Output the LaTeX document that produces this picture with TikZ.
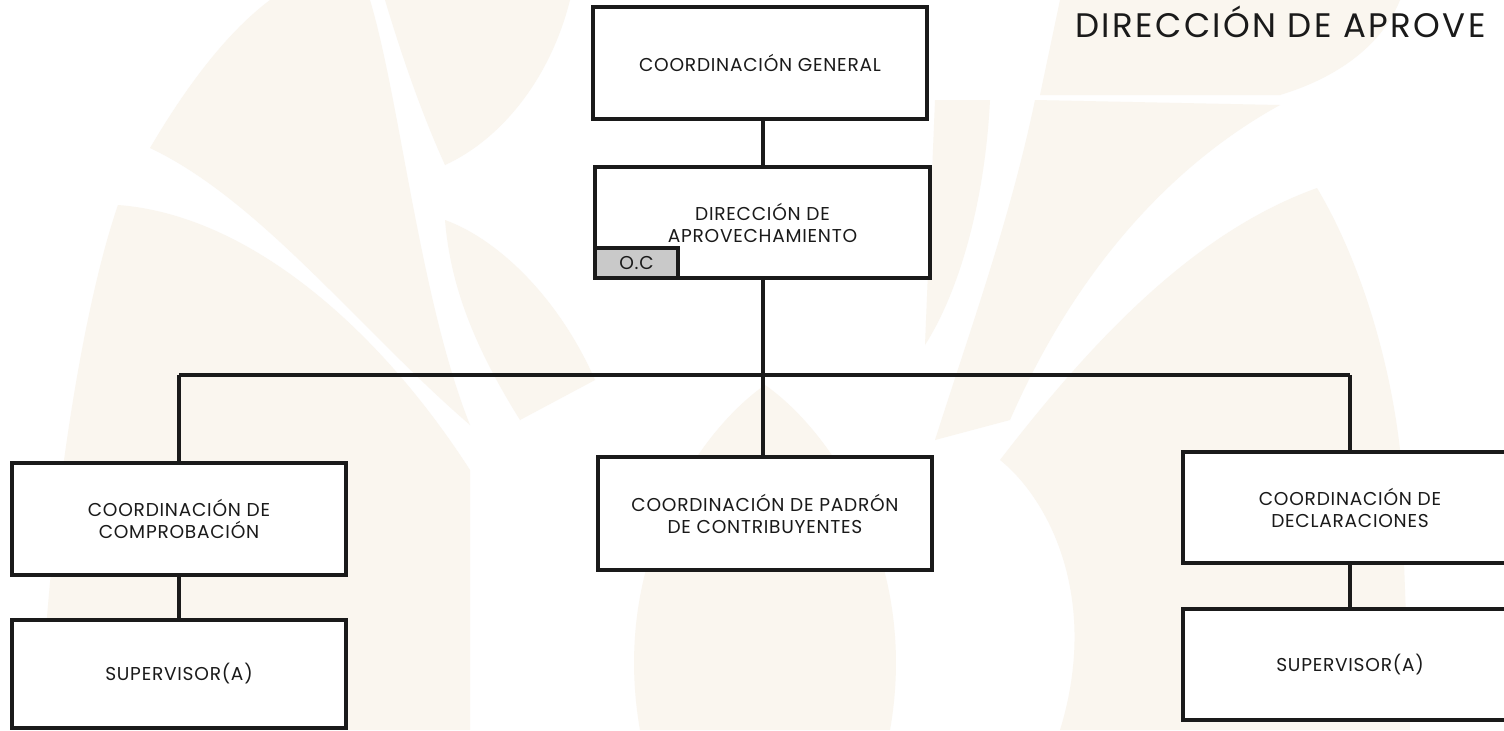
\documentclass[tikz,border=0pt]{standalone}
\usepackage{fontspec}
\setmainfont{Poppins}
\definecolor{wmark}{HTML}{FAF6EF}
\definecolor{ocgray}{HTML}{C9C9C9}
\definecolor{ink}{HTML}{1A1A1A}
\newfontfamily\boxfont[LetterSpace=4]{Poppins}
\newfontfamily\titlefont[LetterSpace=7]{Poppins}
\tikzset{
  orgbox/.style={draw=ink, line width=1.6pt, fill=white, minimum width=167pt, minimum height=56pt, align=center, font=\boxfont\fontsize{9.3}{11}\selectfont, text=ink, inner sep=0pt},
  link/.style={draw=ink, line width=1.6pt},
}
\begin{document}
\begin{tikzpicture}[x=0.5pt,y=-0.5pt]
\useasboundingbox (0,0) rectangle (1504,730);
\clip (0,0) rectangle (1504,730);
\fill[white] (0,0) rectangle (1504,730);
% faint watermark shapes
\fill[wmark] (40,730) .. controls (50,500) and (85,300) .. (118,205) .. controls (250,215) and (380,330) .. (470,470) -- (470,730) -- cycle;
\fill[wmark] (150,148) .. controls (190,80) and (230,30) .. (270,0) -- (370,0) .. controls (400,100) and (420,300) .. (470,425) .. controls (360,330) and (260,200) .. (150,148) -- cycle;
\fill[wmark] (385,0) -- (570,0) .. controls (550,80) and (500,140) .. (445,165) .. controls (420,110) and (400,50) .. (385,0) -- cycle;
\fill[wmark] (445,220) .. controls (500,240) and (560,300) .. (595,380) -- (520,420) .. controls (470,340) and (450,280) .. (445,220) -- cycle;
\fill[wmark] (640,730) .. controls (610,560) and (700,430) .. (765,385) .. controls (830,430) and (920,560) .. (890,730) -- cycle;
\fill[wmark] (935,100) -- (990,100) .. controls (985,200) and (960,290) .. (925,345) -- cycle;
\fill[wmark] (1035,100) -- (1280,105) .. controls (1180,160) and (1080,260) .. (1010,420) -- (935,440) .. controls (970,330) and (1010,220) .. (1035,100) -- cycle;
\fill[wmark] (1317,188) .. controls (1360,260) and (1390,360) .. (1400,450) -- (1410,730) -- (1060,730) .. controls (1100,600) and (1050,500) .. (1000,460) .. controls (1100,330) and (1200,230) .. (1317,188) -- cycle;
\fill[wmark] (1060,0) -- (1400,0) .. controls (1380,50) and (1330,80) .. (1280,95) -- (1040,95) -- cycle;

\node[orgbox, minimum height=56pt] (cg) at (760,63) {COORDINACIÓN GENERAL};
\node[orgbox, minimum width=167.5pt, minimum height=55.5pt] (dir) at (762.5,222.5) {DIRECCIÓN DE\\APROVECHAMIENTO};
\node[draw=ink, line width=1.6pt, fill=ocgray, anchor=south west, minimum width=41.5pt, minimum height=15pt, inner sep=0pt, font=\boxfont\fontsize{9.3}{11}\selectfont, text=ink] (oc) at (dir.south west) {O.C};

\node[orgbox] (c1) at (179,519) {COORDINACIÓN DE\\COMPROBACIÓN};
\node[orgbox, minimum height=56.5pt] (c2) at (765,513.5) {COORDINACIÓN DE PADRÓN\\DE CONTRIBUYENTES};
\node[orgbox, minimum height=55.5pt] (c3) at (1350,507.5) {COORDINACIÓN DE\\DECLARACIONES};
\node[orgbox, minimum height=54pt] (s1) at (179,674) {SUPERVISOR(A)};
\node[orgbox, minimum height=55.5pt] (s3) at (1350,664.5) {SUPERVISOR(A)};

\node[anchor=base west, inner sep=0pt, font=\titlefont\fontsize{17}{20}\selectfont, text=ink] (title) at (1075,37) {DIRECCIÓN DE APROVE};

\coordinate (bus) at (763,375);
\draw[link] (cg.south -| bus) -- (dir.north -| bus);
\draw[link] (dir.south -| bus) -- (bus);
\draw[link] (c1.north |- bus) -- (c3.north |- bus);
\draw[link] (c1.north |- bus) -- (c1.north);
\draw[link] (c3.north |- bus) -- (c3.north);
\draw[link] (bus) -- (bus |- c2.north);
\draw[link] (c1.south) -- (s1.north);
\draw[link] (c3.south) -- (s3.north);
\end{tikzpicture}
\end{document}
